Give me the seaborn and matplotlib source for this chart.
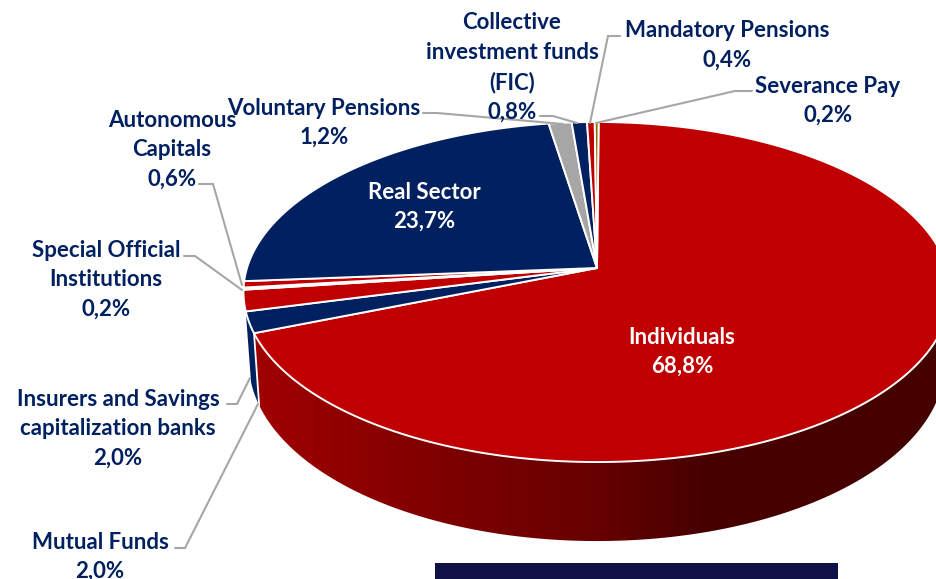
import numpy as np
import matplotlib
matplotlib.use("Agg")
import matplotlib.pyplot as plt
from matplotlib.colors import LinearSegmentedColormap
from matplotlib.patches import Polygon, Rectangle
import seaborn as sns

# ---- data
names = ["Individuals", "Mutual Funds", "Insurers and Savings\ncapitalization banks",
         "Special Official\nInstitutions", "Autonomous\nCapitals", "Real Sector",
         "Voluntary Pensions", "Collective\ninvestment funds\n(FIC)",
         "Mandatory Pensions", "Severance Pay"]
values = [68.8, 2.0, 2.0, 0.2, 0.6, 23.7, 1.2, 0.8, 0.4, 0.2]
colors = ["#C00000", "#002060", "#C00000", "#FFF2CC", "#C00000", "#002060",
          "#A6A6A6", "#002060", "#C00000", "#8A6A00"]
text_colors = ["white", "#002060", "#002060", "#002060", "#002060", "white",
               "#002060", "#002060", "#002060", "#002060"]
label_x = [682, 100, 118, 106, 172, 424, 324, 512, 727, 828]
label_y = [352, 557, 428.5, 279.5, 150, 207, 123, 67.5, 45.5, 101]
leaders = [None,
           [(175, 548), (185, 548), (258, 404)],
           [(227, 404), (237, 404), (250, 378)],
           [(184, 256), (195, 256), (242, 290)],
           [(199, 184), (213, 184), (242, 285)],
           None,
           [(423, 113), (437, 113), (563, 124)],
           [(540, 116), (553, 116), (577, 123)],
           [(620, 36), (608, 36), (590, 123)],
           [(752, 91), (735, 91), (596, 123)]]
side_stops_x = [255, 430, 600, 700, 936]
side_stops_c = ["#A00000", "#800000", "#660000", "#480000", "#450000"]

sns.set_theme(style="white")
plt.rcParams["font.family"] = ["Lato", "DejaVu Sans"]

fig = plt.figure(figsize=(9.36, 5.79), dpi=100)
ax = fig.add_axes([0, 0, 1, 1])
wedges, _ = ax.pie(values, colors=colors, startangle=89.7, counterclock=False)
ax.set_aspect("auto")
ax.set_xlim(0, 936)
ax.set_ylim(579, 0)
ax.axis("off")

# perspective of the tilted disc
CX, APEX, A, C, K = 597.0, 268.0, -128.8, 0.1412, 350.0


def rim(theta_deg):
    t = np.deg2rad(theta_deg)
    u, v = np.cos(t), np.sin(t)
    d = 1 + C * v
    return CX + K * u / d, (A * v + APEX) / d, v


def lower(x, y, v):
    return CX + (x - CX) * 0.985, y + 68 + 11 * np.maximum(-v, 0)


def wall(th1, th2):
    th = np.linspace(th1, th2, 200)
    x, y, v = rim(th)
    xb, yb = lower(x, y, v)
    return np.column_stack([np.r_[x, xb[::-1]], np.r_[y, yb[::-1]]])


for w in wedges:
    w.set_visible(False)

# side wall of the Individuals slice with its horizontal gradient
w0 = wedges[0]
th_lo = w0.theta1 % 360
pts = wall(th_lo, 360)
grad_pos = (np.array(side_stops_x) - side_stops_x[0]) / (side_stops_x[-1] - side_stops_x[0])
cmap = LinearSegmentedColormap.from_list("side", list(zip(grad_pos, side_stops_c)))
im = ax.imshow(np.linspace(0, 1, 512)[None, :], cmap=cmap, aspect="auto",
               extent=(side_stops_x[0], side_stops_x[-1], 579, 0), zorder=1)
clip = Polygon(pts, closed=True, transform=ax.transData, fc="none", ec="none")
ax.add_patch(clip)
im.set_clip_path(clip)
ax.set_xlim(0, 936)
ax.set_ylim(579, 0)

# side wall of the Mutual Funds slice
w1 = wedges[1]
ax.add_patch(Polygon(wall(w1.theta1 % 360, w1.theta2 % 360), closed=True,
                     fc=colors[1], ec="none", zorder=1))
x0, y0, v0 = rim(w0.theta1)
xb0, yb0 = lower(x0, y0, v0)
ax.plot([x0, xb0], [y0, yb0], color="white", lw=1.3, zorder=2)

# top faces
for w, col in zip(wedges, colors):
    th = np.linspace(w.theta1, w.theta2, max(int(w.theta2 - w.theta1) * 4, 8))
    x, y, _v = rim(th)
    ax.add_patch(Polygon(np.column_stack([np.r_[CX, x], np.r_[APEX, y]]), closed=True,
                         fc=col, ec="white", lw=1.4, joinstyle="round", zorder=3))

# leader lines
for seg in leaders:
    if seg is not None:
        xs, ys = zip(*seg)
        ax.plot(xs, ys, color="#A6A6A6", lw=1.5, zorder=4, solid_joinstyle="miter")

# labels
for name, val, lx, ly, tc in zip(names, values, label_x, label_y, text_colors):
    txt = f"{name}\n{val:.1f}%".replace(".", ",")
    ax.text(lx, ly, txt, ha="center", va="center", color=tc, fontsize=16,
            fontweight="bold", linespacing=1.49, zorder=5)

ax.add_patch(Rectangle((435, 563), 403, 16, fc="#0F1147", ec="none", zorder=5))

fig.savefig("out.png", dpi=100, facecolor="white")
